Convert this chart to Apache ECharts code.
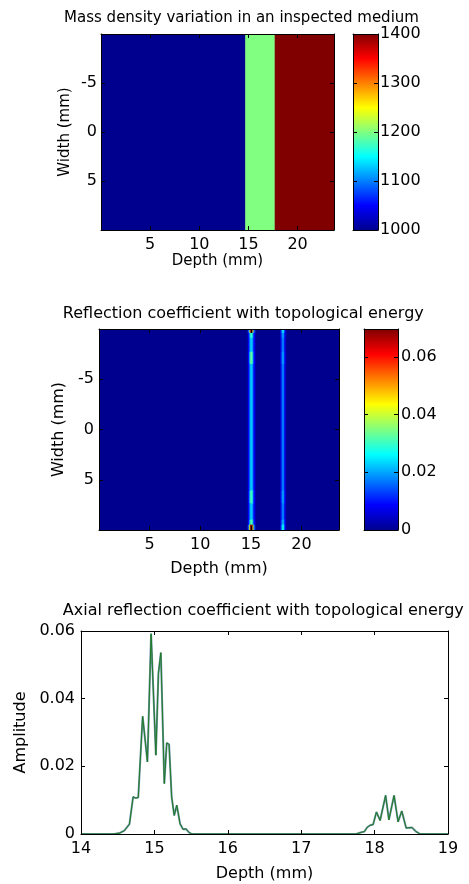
<!DOCTYPE html>
<html><head><meta charset="utf-8">
<script src="https://cdn.jsdelivr.net/npm/echarts@6/dist/echarts.min.js"></script>
<style>html,body{margin:0;padding:0;background:#fff}#c{width:469px;height:884px}</style>
</head><body><div id="c"></div>
<script>
// ---------- data ----------
// Plot 1: mass density (kg/m^3) bands along depth
const densityDepthEdges = [0, 14.7, 17.7, 23.7];
const densityValues = [1000, 1200, 1400];
const densityWidthRange = [-10, 10];
const densityColorRange = [1000, 1400];

// Plot 2: reflection coefficient map
const reflDepthRange = [0, 23.7];
const reflWidthRange = [-10, 10];
const reflBackground = 0;
const reflColorRange = [0, 0.0697];
const reflWidthEdges = [-10, -9.6, -9.1, -7.7, -6.5, 6.1, 7.4, 9.0, 9.5, 10];
const stripe1DepthEdges = [14.72, 14.85, 14.94, 15.2, 15.29, 15.4];
const stripe1Values = [
  [0.014, 0.038, 0.066, 0.038, 0.014],
  [0.009, 0.018, 0.029, 0.018, 0.009],
  [0.008, 0.0155, 0.0224, 0.0155, 0.008],
  [0.009, 0.020, 0.032, 0.020, 0.009],
  [0.008, 0.0155, 0.0224, 0.0155, 0.008],
  [0.009, 0.019, 0.030, 0.019, 0.009],
  [0.008, 0.0155, 0.0224, 0.0155, 0.008],
  [0.009, 0.020, 0.031, 0.020, 0.009],
  [0.015, 0.042, 0.069, 0.042, 0.015]
];
const stripe2DepthEdges = [17.92, 18.0, 18.09, 18.29, 18.37, 18.45];
const stripe2Values = [
  [0.007, 0.015, 0.025, 0.015, 0.007],
  [0.006, 0.012, 0.020, 0.012, 0.006],
  [0.005, 0.011, 0.018, 0.011, 0.005],
  [0.006, 0.012, 0.020, 0.012, 0.006],
  [0.005, 0.011, 0.018, 0.011, 0.005],
  [0.006, 0.012, 0.020, 0.012, 0.006],
  [0.005, 0.011, 0.018, 0.011, 0.005],
  [0.006, 0.013, 0.021, 0.013, 0.006],
  [0.007, 0.016, 0.027, 0.016, 0.007]
];

// Plot 3: axial profile
const axialDepth = [14.0, 14.45, 14.53, 14.59, 14.66, 14.71, 14.745, 14.78, 14.84, 14.905,
  14.955, 15.02, 15.055, 15.088, 15.135, 15.168, 15.2, 15.235, 15.27, 15.305,
  15.35, 15.39, 15.43, 15.47, 15.51, 17.75, 17.82, 17.86, 17.9, 17.94,
  17.98, 18.025, 18.075, 18.15, 18.195, 18.265, 18.32, 18.37, 18.43, 18.51,
  18.56, 18.62, 19.0];
const axialAmplitude = [0, 0, 0.0003, 0.001, 0.0029, 0.011, 0.0106, 0.0108, 0.0348, 0.0213,
  0.0592, 0.0233, 0.0475, 0.0536, 0.0149, 0.0269, 0.0265, 0.011, 0.0055, 0.0085,
  0.003, 0.0014, 0.0015, 0.0005, 0, 0, 0.0005, 0.0007, 0.002, 0.0026,
  0.0028, 0.0065, 0.004, 0.0114, 0.0042, 0.0114, 0.0036, 0.0068, 0.0018, 0.0019,
  0.0008, 0, 0];

const titles = [
  'Mass density variation in an inspected medium',
  'Reflection coefficient with topological energy',
  'Axial reflection coefficient with topological energy'
];

// ---------- build ----------
const jet = ['#00008F','#0000FF','#0080FF','#00FFFF','#80FF80','#FFFF00','#FF8000','#FF0000','#800000'];
const FONT = 'DejaVu Sans';

function cells(depthEdges, widthEdges, values) {
  const out = [];
  for (let r = 0; r < values.length; r++)
    for (let c = 0; c < values[r].length; c++)
      out.push([depthEdges[c], depthEdges[c + 1], widthEdges[r], widthEdges[r + 1], values[r][c]]);
  return out;
}
const densityCells = densityValues.map((v, i) =>
  [densityDepthEdges[i], densityDepthEdges[i + 1], densityWidthRange[0], densityWidthRange[1], v]);
const reflCells = [[reflDepthRange[0], reflDepthRange[1], reflWidthRange[0], reflWidthRange[1], reflBackground]]
  .concat(cells(stripe1DepthEdges, reflWidthEdges, stripe1Values), cells(stripe2DepthEdges, reflWidthEdges, stripe2Values));

function rectOf(api) {
  const a = api.coord([api.value(0), api.value(2)]);
  const b = api.coord([api.value(1), api.value(3)]);
  return { x: Math.min(a[0], b[0]), y: Math.min(a[1], b[1]), width: Math.abs(b[0] - a[0]), height: Math.abs(b[1] - a[1]) };
}
function renderCell(params, api) {
  const col = api.visual('color');
  return { type: 'rect', shape: rectOf(api), style: { fill: col, stroke: col, lineWidth: 0.6 } };
}
function renderBar(params, api) {
  const stops = jet.map((c, i) => ({ offset: i / (jet.length - 1), color: c }));
  return { type: 'rect', shape: rectOf(api), style: { fill: new echarts.graphic.LinearGradient(0, 1, 0, 0, stops) } };
}

const axisLine = { show: true, onZero: false, lineStyle: { color: '#000', width: 1 } };
function tick(show) { return { show: show, inside: true, length: 4, lineStyle: { color: '#000', width: 1 } }; }
function lab(show, margin, extra) {
  return Object.assign({ show: show, margin: margin || 0, color: '#000', fontFamily: FONT, fontSize: 16, formatter: v => String(+v.toFixed(6)) }, extra || {});
}
const xAxes = [], yAxes = [];
function addBox(g, x, y) {
  const xs = { type: 'value', gridIndex: g, min: x.min, max: x.max, interval: x.interval, splitLine: { show: false }, axisLine: axisLine, z: 10, silent: true };
  const ys = { type: 'value', gridIndex: g, min: y.min, max: y.max, interval: y.interval, inverse: !!y.inverse, splitLine: { show: false }, axisLine: axisLine, z: 10, silent: true };
  const xb = Object.assign({}, xs, { position: 'bottom', axisTick: tick(x.ticks !== false), axisLabel: lab(!!x.label, x.margin, x.label || {}) });
  if (x.name) Object.assign(xb, { name: x.name, nameLocation: 'middle', nameGap: x.nameGap, nameTextStyle: { color: '#000', fontFamily: FONT, fontSize: x.nameSize } });
  const xt = Object.assign({}, xs, { position: 'top', axisTick: tick(x.ticks !== false), axisLabel: { show: false } });
  const yl = Object.assign({}, ys, { position: 'left', axisTick: tick(y.ticks !== false), axisLabel: lab(!!y.label, y.margin, y.label || {}) });
  if (y.name) Object.assign(yl, { name: y.name, nameLocation: 'middle', nameRotate: 90, nameGap: y.nameGap, nameTextStyle: { color: '#000', fontFamily: FONT, fontSize: y.nameSize } });
  const yr = Object.assign({}, ys, { position: 'right', axisTick: tick(y.ticks !== false), axisLabel: y.rightLabel ? lab(true, y.rightMargin, y.rightLabel) : { show: false } });
  xAxes.push(xb, xt); yAxes.push(yl, yr);
  return { x: 2 * g, y: 2 * g };
}

const hide = { showMinLabel: false, showMaxLabel: false };
// grid 0: density map
const a0 = addBox(0, { min: 0, max: 23.7, interval: 5, label: hide, margin: 7, name: 'Depth (mm)', nameGap: 12, nameSize: 15 },
                    { min: -10, max: 10, interval: 5, inverse: true, label: hide, margin: 4, name: 'Width (mm)', nameGap: 28, nameSize: 15 });
// grid 1: density colorbar
const a1 = addBox(1, { min: 0, max: 1, ticks: false }, { min: densityColorRange[0], max: densityColorRange[1], interval: 100, rightLabel: {}, rightMargin: 2 });
// grid 2: reflection map
const a2 = addBox(2, { min: 0, max: 23.7, interval: 5, label: hide, margin: 7, name: 'Depth (mm)', nameGap: 31, nameSize: 16 },
                    { min: -10, max: 10, interval: 5, inverse: true, label: hide, margin: 5, name: 'Width (mm)', nameGap: 32, nameSize: 16 });
// grid 3: reflection colorbar
const a3 = addBox(3, { min: 0, max: 1, ticks: false }, { min: reflColorRange[0], max: reflColorRange[1], interval: 0.02, rightLabel: { showMaxLabel: false }, rightMargin: 3 });
// grid 4: axial profile
const a4 = addBox(4, { min: 14, max: 19, interval: 1, label: {}, margin: 7, name: 'Depth (mm)', nameGap: 32, nameSize: 16 },
                    { min: 0, max: 0.06, interval: 0.02, label: {}, margin: 6, name: 'Amplitude', nameGap: 52, nameSize: 16 });

const axialData = axialDepth.map((d, i) => [d, axialAmplitude[i]]);

const option = {
  animation: false,
  backgroundColor: '#fff',
  grid: [
    { left: 101, top: 34, width: 233, height: 196 },
    { left: 353, top: 34, width: 25, height: 196 },
    { left: 99, top: 329, width: 240, height: 201 },
    { left: 364, top: 329, width: 34, height: 201 },
    { left: 81, top: 631, width: 367, height: 203 }
  ],
  xAxis: xAxes,
  yAxis: yAxes,
  visualMap: [
    { type: 'continuous', show: false, min: densityColorRange[0], max: densityColorRange[1], dimension: 4, seriesIndex: 0, inRange: { color: jet } },
    { type: 'continuous', show: false, min: reflColorRange[0], max: reflColorRange[1], dimension: 4, seriesIndex: 2, inRange: { color: jet } }
  ],
  series: [
    { type: 'custom', xAxisIndex: a0.x, yAxisIndex: a0.y, renderItem: renderCell, data: densityCells, encode: { x: [0, 1], y: [2, 3] }, clip: true, silent: true },
    { type: 'custom', xAxisIndex: a1.x, yAxisIndex: a1.y, renderItem: renderBar, data: [[0, 1, densityColorRange[0], densityColorRange[1]]], encode: { x: [0, 1], y: [2, 3] }, silent: true },
    { type: 'custom', xAxisIndex: a2.x, yAxisIndex: a2.y, renderItem: renderCell, data: reflCells, encode: { x: [0, 1], y: [2, 3] }, clip: true, silent: true },
    { type: 'custom', xAxisIndex: a3.x, yAxisIndex: a3.y, renderItem: renderBar, data: [[0, 1, reflColorRange[0], reflColorRange[1]]], encode: { x: [0, 1], y: [2, 3] }, silent: true },
    { type: 'line', xAxisIndex: a4.x, yAxisIndex: a4.y, data: axialData, showSymbol: false, symbol: 'none', lineStyle: { color: '#6d93a6', width: 2 }, clip: true, silent: true, z: 3 },
    { type: 'line', xAxisIndex: a4.x, yAxisIndex: a4.y, data: axialData, showSymbol: false, symbol: 'none', lineStyle: { color: '#1f7a24', width: 1 }, clip: true, silent: true, z: 4 }
  ],
  graphic: [
    { type: 'text', x: 241.5, y: 18.5, style: { text: titles[0], fontFamily: FONT, fontSize: 15, fill: '#000', align: 'center', verticalAlign: 'middle' } },
    { type: 'text', x: 243.3, y: 313.5, style: { text: titles[1], fontFamily: FONT, fontSize: 16, fill: '#000', align: 'center', verticalAlign: 'middle' } },
    { type: 'text', x: 263.3, y: 610.5, style: { text: titles[2], fontFamily: FONT, fontSize: 16, fill: '#000', align: 'center', verticalAlign: 'middle' } }
  ]
};
const chart = echarts.init(document.getElementById('c'), null, { renderer: 'canvas' });
chart.setOption(option);
</script></body></html>
